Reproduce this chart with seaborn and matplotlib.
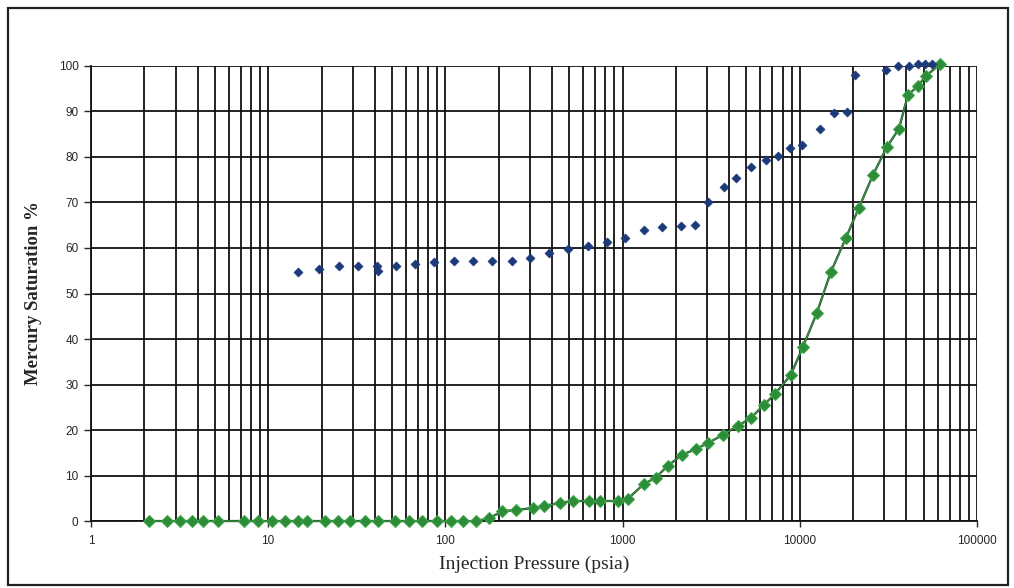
import numpy as np
import pandas as pd
import matplotlib
matplotlib.use("Agg")
import matplotlib.pyplot as plt
import seaborn as sns
from matplotlib.ticker import LogLocator, FixedLocator, NullFormatter
from matplotlib.patches import Rectangle

# extrusion points (blue diamonds, no line)
extr_pressure = [14.8, 19.4, 25.2, 32.2, 41.3, 41.5, 52.9, 67.7, 86.7, 112, 144, 184, 239,
                 299, 382, 495, 634, 812, 1026, 1314, 1660, 2127, 2553, 3020, 3720, 4350,
                 5290, 6430, 7510, 8790, 10260, 12970, 15560, 18440, 20450, 30600, 35800,
                 41300, 46400, 51000, 55700]
extr_sat = [54.7, 55.4, 56.0, 56.0, 56.1, 54.9, 56.0, 56.5, 57.0, 57.1, 57.1, 57.1, 57.1,
            57.8, 58.9, 59.8, 60.4, 61.3, 62.2, 64.0, 64.6, 64.8, 65.1, 70.1, 73.4, 75.4,
            77.8, 79.3, 80.2, 82.0, 82.6, 86.2, 89.7, 89.9, 98.0, 99.1, 100.0,
            100.0, 100.4, 100.4, 100.4]

# intrusion points (green diamonds joined by a line)
intr_pressure = [2.13, 2.69, 3.18, 3.72, 4.29, 5.22, 7.32, 8.78, 10.5, 12.5, 14.8, 16.6,
                 21.0, 24.9, 29.1, 35.3, 41.8, 52.2, 62.7, 74.2, 90.2, 107, 126, 148, 177,
                 210, 252, 314, 358, 446, 522, 643, 742, 937, 1067, 1314, 1536, 1795,
                 2153, 2583, 3020, 3670, 4465, 5290, 6260, 7230, 8890, 10400, 12470,
                 14960, 18200, 21540, 25840, 31020, 36260, 40740, 46400, 51500, 61800]
intr_sat = [0, 0, 0, 0, 0, 0, 0, 0, 0, 0, 0, 0,
            0, 0, 0, 0, 0, 0, 0, 0, 0, 0, 0, 0, 0.6,
            2.2, 2.4, 2.9, 3.3, 4.0, 4.4, 4.4, 4.4, 4.4, 4.8, 8.1, 9.5, 12.1,
            14.5, 15.8, 17.1, 18.9, 20.9, 22.6, 25.5, 27.9, 32.1, 38.2, 45.7,
            54.7, 62.2, 68.8, 76.0, 82.2, 86.2, 93.6, 95.6, 97.8, 100.4]

y_ticks = [0, 10, 20, 30, 40, 50, 60, 70, 80, 90, 100]
x_ticks = [1, 10, 100, 1000, 10000, 100000]
x_ticklabels = ["1", "10", "100", "1000", "10000", "100000"]

extr = pd.DataFrame({"pressure": extr_pressure, "sat": extr_sat})
intr = pd.DataFrame({"pressure": intr_pressure, "sat": intr_sat})

sns.set_style("white")
plt.rcParams['font.family'] = ['Liberation Sans', 'DejaVu Sans']

fig = plt.figure(figsize=(10.14, 5.88), dpi=100)
ax = fig.add_axes([0.0897, 0.1139, 0.8738, 0.7739])

ax.set_xscale("log")
ax.set_xlim(1, 100000)
ax.set_ylim(0, 100)

# grid
ax.xaxis.set_major_locator(FixedLocator(x_ticks))
ax.xaxis.set_minor_locator(LogLocator(base=10, subs=np.arange(2, 10), numticks=20))
ax.xaxis.set_minor_formatter(NullFormatter())
ax.set_yticks(y_ticks)
ax.grid(True, which="major", axis="both", color="#111111", lw=1.3)
ax.grid(True, which="minor", axis="x", color="#111111", lw=1.3)
ax.set_axisbelow(True)

sns.lineplot(data=intr, x="pressure", y="sat", sort=False, estimator=None,
             color="#2b2b2b", lw=1.6, ax=ax, zorder=3, clip_on=False)
sns.lineplot(data=intr, x="pressure", y="sat", sort=False, estimator=None,
             color="#2e9a3a", lw=1.0, marker="D", markersize=6.5,
             markeredgecolor="#3aa845", markerfacecolor="#2e8b3a", ax=ax, zorder=4,
             clip_on=False)
sns.scatterplot(data=extr, x="pressure", y="sat", marker="D", s=22,
                color="#1c3a7a", edgecolor="#1c3a7a", ax=ax, zorder=5, clip_on=False)

ax.set_xticklabels(x_ticklabels)
ax.tick_params(axis="y", which="major", left=True, length=5, width=1, labelsize=8.5, pad=4)
ax.tick_params(axis="x", which="major", bottom=True, length=4, width=1, labelsize=8.5, pad=6)
ax.tick_params(axis="x", which="minor", bottom=False)

for s in ["left", "bottom"]:
    ax.spines[s].set_color("#111111")
    ax.spines[s].set_linewidth(1.3)
for s in ["top", "right"]:
    ax.spines[s].set_visible(False)

ax.set_xlabel("Injection Pressure (psia)", family=["Liberation Serif", "DejaVu Serif"],
              fontsize=14, labelpad=6)
ax.set_ylabel("Mercury Saturation %", family=["Liberation Serif", "DejaVu Serif"],
              fontsize=13.5, fontweight="bold", labelpad=12)

# outer border of the chart area
fig.patches.append(Rectangle((8 / 1014, 3 / 588), 1000 / 1014, 577 / 588,
                             transform=fig.transFigure, fill=False,
                             edgecolor="#222222", lw=1.6))

fig.savefig("out.png", dpi=100)
